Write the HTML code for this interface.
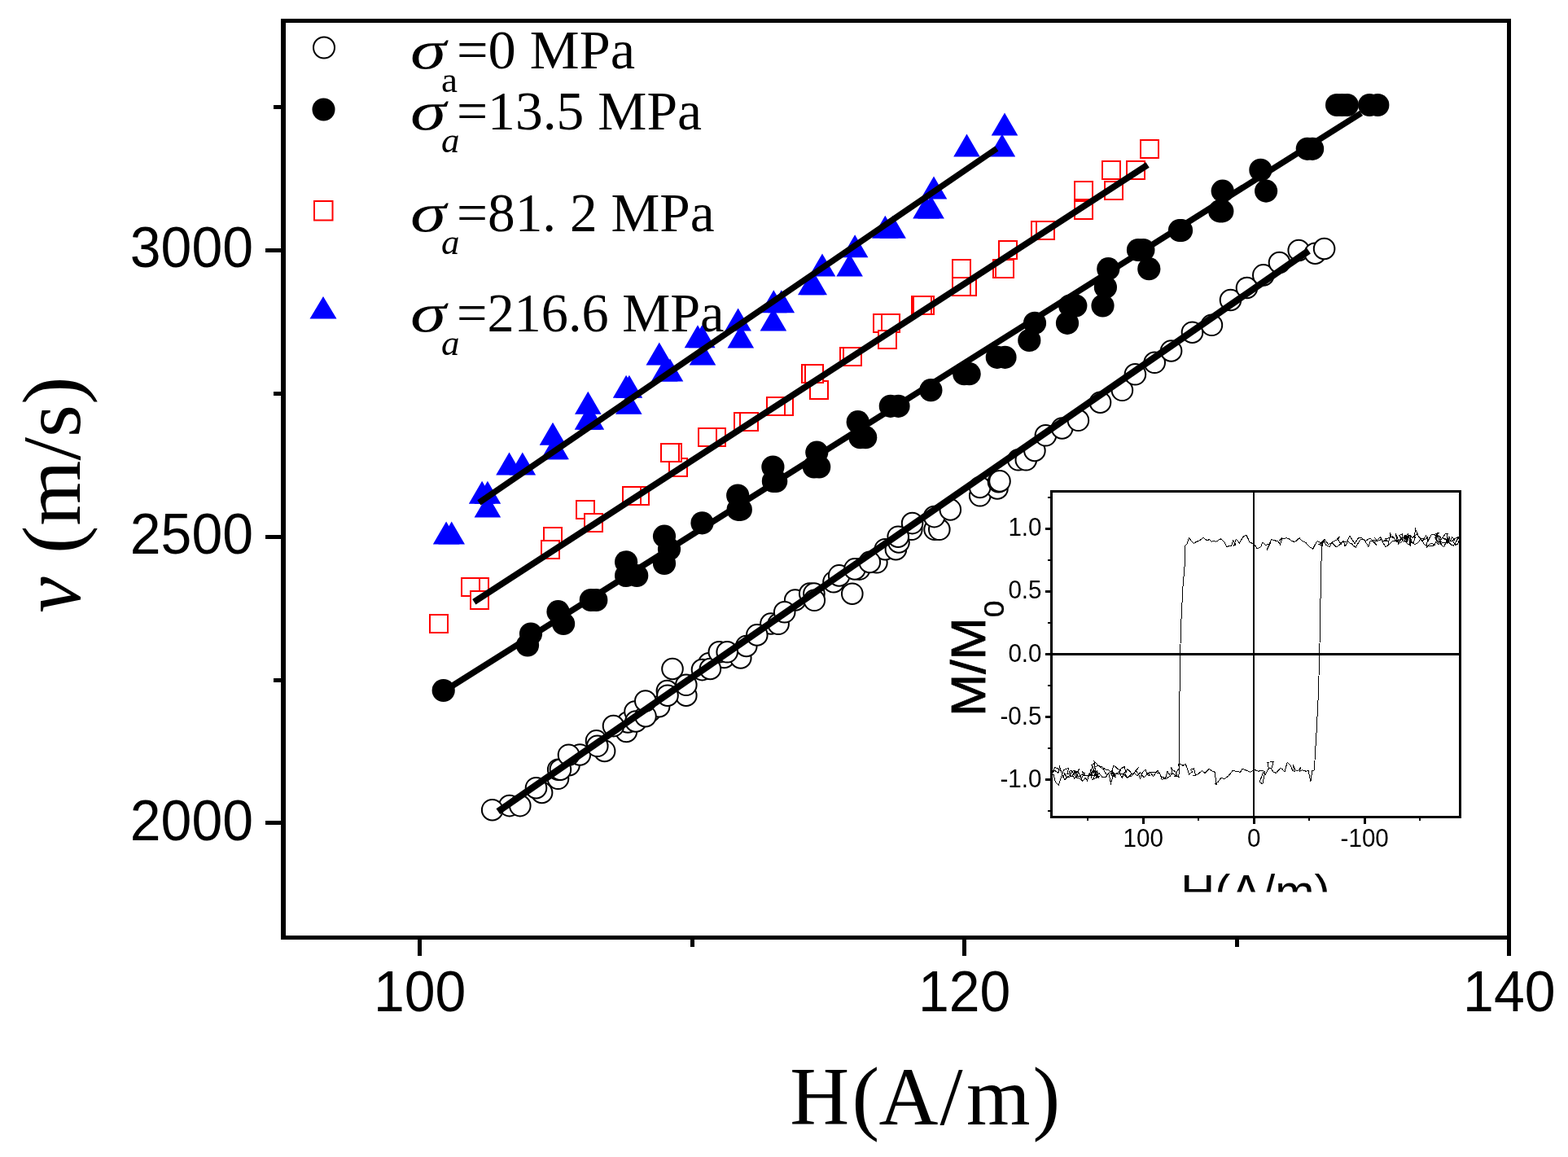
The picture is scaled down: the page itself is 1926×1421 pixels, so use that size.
<!DOCTYPE html>
<html lang="en"><head><meta charset="utf-8"><title>v versus H</title>
<style>
html,body{margin:0;padding:0;background:#fff;}
body{width:1926px;height:1421px;overflow:hidden;}
svg{display:block;}
.sans{font-family:"Liberation Sans",Arial,Helvetica,sans-serif;}
.serif{font-family:"Liberation Serif","Times New Roman",Times,serif;}
</style></head><body>
<svg width="1926" height="1421" viewBox="0 0 1926 1421" role="img" aria-label="v (m/s) versus H (A/m)">
<rect x="0" y="0" width="1926" height="1421" fill="#fff"/>
<g fill="#000" shape-rendering="crispEdges">
<rect x="345" y="23" width="6" height="1131"/>
<rect x="345" y="23" width="1511" height="5"/>
<rect x="1851" y="23" width="5" height="1131"/>
<rect x="345" y="1149" width="1511" height="5"/>
<rect x="326" y="305.0" width="22" height="5"/>
<rect x="326" y="656.8" width="22" height="5"/>
<rect x="326" y="1007.7" width="22" height="5"/>
<rect x="336" y="129.0" width="12" height="5"/>
<rect x="336" y="480.9" width="12" height="5"/>
<rect x="336" y="832.5" width="12" height="5"/>
<rect x="513.3" y="1151" width="5" height="23"/>
<rect x="1181.9" y="1151" width="5" height="23"/>
<rect x="1851.0" y="1151" width="5" height="23"/>
<rect x="847.5" y="1151" width="5" height="12"/>
<rect x="1516.5" y="1151" width="5" height="12"/>
</g>
<g class="sans" font-size="70" fill="#000">
<text x="311" y="328.3" text-anchor="end" textLength="151.2" lengthAdjust="spacingAndGlyphs">3000</text>
<text x="311" y="680.3" text-anchor="end" textLength="151.2" lengthAdjust="spacingAndGlyphs">2500</text>
<text x="311" y="1031.8" text-anchor="end" textLength="151.2" lengthAdjust="spacingAndGlyphs">2000</text>
<text x="515.6" y="1242" text-anchor="middle" textLength="113.4" lengthAdjust="spacingAndGlyphs">100</text>
<text x="1184.6" y="1242" text-anchor="middle" textLength="113.4" lengthAdjust="spacingAndGlyphs">120</text>
<text x="1853.8" y="1242" text-anchor="middle" textLength="113.4" lengthAdjust="spacingAndGlyphs">140</text>
</g>
<text class="serif" x="970.2 1046.5 1079.4 1154.6 1186.9 1268.4" y="1380.5" font-size="101" fill="#000">H(A/m)</text>
<text class="serif" transform="translate(97.5,752.5) rotate(-90)" fill="#000"><tspan x="0" y="0" font-size="104" font-style="italic" textLength="43.9" lengthAdjust="spacingAndGlyphs">v</tspan><tspan font-size="60"> </tspan><tspan x="72.5" y="0" font-size="102" textLength="217.5" lengthAdjust="spacingAndGlyphs">(m/s)</tspan></text>
<circle cx="398" cy="58.5" r="13" fill="none" stroke="#000" stroke-width="2"/>
<circle cx="397.5" cy="134.5" r="14" fill="#000"/>
<rect x="386" y="247" width="22.5" height="23.5" fill="none" stroke="#f00" stroke-width="2"/>
<polygon points="397,364 413.5,391.5 380.5,391.5" fill="#00f"/>
<text class="serif" fill="#000"><tspan x="504" y="84.0" font-size="68" font-style="italic" textLength="44" lengthAdjust="spacingAndGlyphs">σ</tspan><tspan x="542" y="112.5" font-size="45">a</tspan><tspan x="561" y="84.0" font-size="68" textLength="219.0" lengthAdjust="spacingAndGlyphs">=0 MPa</tspan></text>
<text class="serif" fill="#000"><tspan x="504" y="158.8" font-size="68" font-style="italic" textLength="44" lengthAdjust="spacingAndGlyphs">σ</tspan><tspan x="542" y="187.3" font-size="45" font-style="italic">a</tspan><tspan x="561" y="158.8" font-size="68" textLength="301.0" lengthAdjust="spacingAndGlyphs">=13.5 MPa</tspan></text>
<text class="serif" fill="#000"><tspan x="504" y="283.9" font-size="68" font-style="italic" textLength="44" lengthAdjust="spacingAndGlyphs">σ</tspan><tspan x="542" y="312.4" font-size="45" font-style="italic">a</tspan><tspan x="561" y="283.9" font-size="68" textLength="316.7" lengthAdjust="spacingAndGlyphs">=81. 2 MPa</tspan></text>
<text class="serif" fill="#000"><tspan x="504" y="407.3" font-size="68" font-style="italic" textLength="44" lengthAdjust="spacingAndGlyphs">σ</tspan><tspan x="542" y="435.8" font-size="45" font-style="italic">a</tspan><tspan x="561" y="407.3" font-size="68" textLength="328.5" lengthAdjust="spacingAndGlyphs">=216.6 MPa</tspan></text>
<g fill="#00f">
<polygon points="548.1,640.6 564.4,668.6 531.8,668.6"/>
<polygon points="554.7,640.6 571.0,668.6 538.4,668.6"/>
<polygon points="592.1,590.7 608.4,618.7 575.8,618.7"/>
<polygon points="598.9,590.7 615.2,618.7 582.6,618.7"/>
<polygon points="598.9,607.5 615.2,635.5 582.6,635.5"/>
<polygon points="625.5,555.4 641.8,583.4 609.2,583.4"/>
<polygon points="641.8,555.4 658.1,583.4 625.5,583.4"/>
<polygon points="679.0,518.7 695.3,546.7 662.7,546.7"/>
<polygon points="680.6,536.2 696.9,564.2 664.3,564.2"/>
<polygon points="682.6,536.2 698.9,564.2 666.3,564.2"/>
<polygon points="722.3,480.7 738.6,508.7 706.0,508.7"/>
<polygon points="722.0,499.7 738.3,527.7 705.7,527.7"/>
<polygon points="725.9,499.7 742.2,527.7 709.6,527.7"/>
<polygon points="769.1,460.7 785.4,488.7 752.8,488.7"/>
<polygon points="772.9,460.7 789.2,488.7 756.6,488.7"/>
<polygon points="772.3,480.7 788.6,508.7 756.0,508.7"/>
<polygon points="809.8,420.5 826.1,448.5 793.5,448.5"/>
<polygon points="816.2,440.6 832.5,468.6 799.9,468.6"/>
<polygon points="823.0,440.6 839.3,468.6 806.7,468.6"/>
<polygon points="857.0,399.3 873.3,427.3 840.7,427.3"/>
<polygon points="862.3,399.3 878.6,427.3 846.0,427.3"/>
<polygon points="863.0,420.5 879.3,448.5 846.7,448.5"/>
<polygon points="906.6,378.4 922.9,406.4 890.3,406.4"/>
<polygon points="909.8,399.4 926.1,427.4 893.5,427.4"/>
<polygon points="949.9,378.4 966.2,406.4 933.6,406.4"/>
<polygon points="950.3,356.3 966.6,384.3 934.0,384.3"/>
<polygon points="959.8,356.3 976.1,384.3 943.5,384.3"/>
<polygon points="996.3,334.3 1012.6,362.3 980.0,362.3"/>
<polygon points="999.7,334.3 1016.0,362.3 983.4,362.3"/>
<polygon points="1010.0,311.5 1026.3,339.5 993.7,339.5"/>
<polygon points="1043.6,311.5 1059.9,339.5 1027.3,339.5"/>
<polygon points="1050.1,288.3 1066.4,316.3 1033.8,316.3"/>
<polygon points="1087.3,264.7 1103.6,292.7 1071.0,292.7"/>
<polygon points="1096.6,264.7 1112.9,292.7 1080.3,292.7"/>
<polygon points="1137.5,240.4 1153.8,268.4 1121.2,268.4"/>
<polygon points="1143.6,240.4 1159.9,268.4 1127.3,268.4"/>
<polygon points="1147.0,216.5 1163.3,244.5 1130.7,244.5"/>
<polygon points="1187.5,164.4 1203.8,192.4 1171.2,192.4"/>
<polygon points="1230.9,164.4 1247.2,192.4 1214.6,192.4"/>
<polygon points="1234.0,138.4 1250.3,166.4 1217.7,166.4"/>
</g>
<g fill="#fff" stroke="#f00" stroke-width="2" shape-rendering="crispEdges">
<rect x="527.6" y="755.0" width="22" height="22"/>
<rect x="577.7" y="710.3" width="22" height="22"/>
<rect x="567.3" y="710.3" width="22" height="22"/>
<rect x="577.9" y="726.0" width="22" height="22"/>
<rect x="668.1" y="648.0" width="22" height="22"/>
<rect x="664.7" y="663.9" width="22" height="22"/>
<rect x="708.0" y="615.0" width="22" height="22"/>
<rect x="718.1" y="631.4" width="22" height="22"/>
<rect x="775.0" y="598.0" width="22" height="22"/>
<rect x="765.0" y="598.0" width="22" height="22"/>
<rect x="822.1" y="562.8" width="22" height="22"/>
<rect x="815.0" y="544.6" width="22" height="22"/>
<rect x="812.0" y="544.6" width="22" height="22"/>
<rect x="869.1" y="526.2" width="22" height="22"/>
<rect x="858.2" y="526.2" width="22" height="22"/>
<rect x="902.4" y="507.2" width="22" height="22"/>
<rect x="908.9" y="507.2" width="22" height="22"/>
<rect x="952.0" y="487.8" width="22" height="22"/>
<rect x="942.0" y="487.8" width="22" height="22"/>
<rect x="995.4" y="468.2" width="22" height="22"/>
<rect x="985.3" y="448.1" width="22" height="22"/>
<rect x="989.1" y="448.1" width="22" height="22"/>
<rect x="1032.2" y="427.4" width="22" height="22"/>
<rect x="1036.0" y="427.4" width="22" height="22"/>
<rect x="1072.9" y="385.6" width="22" height="22"/>
<rect x="1083.0" y="385.6" width="22" height="22"/>
<rect x="1078.8" y="406.0" width="22" height="22"/>
<rect x="1119.8" y="364.4" width="22" height="22"/>
<rect x="1125.3" y="364.4" width="22" height="22"/>
<rect x="1122.3" y="364.4" width="22" height="22"/>
<rect x="1176.6" y="341.2" width="22" height="22"/>
<rect x="1169.5" y="341.2" width="22" height="22"/>
<rect x="1169.5" y="319.0" width="22" height="22"/>
<rect x="1220.3" y="319.0" width="22" height="22"/>
<rect x="1223.0" y="319.0" width="22" height="22"/>
<rect x="1226.6" y="296.0" width="22" height="22"/>
<rect x="1267.4" y="272.0" width="22" height="22"/>
<rect x="1273.1" y="272.0" width="22" height="22"/>
<rect x="1320.1" y="247.3" width="22" height="22"/>
<rect x="1320.1" y="223.4" width="22" height="22"/>
<rect x="1357.1" y="223.4" width="22" height="22"/>
<rect x="1353.5" y="197.7" width="22" height="22"/>
<rect x="1384.1" y="197.7" width="22" height="22"/>
<rect x="1400.6" y="172.0" width="22" height="22"/>
</g>
<g fill="#000">
<circle cx="544.7" cy="848.0" r="14.1"/>
<circle cx="648.0" cy="792.5" r="14.1"/>
<circle cx="652.0" cy="778.5" r="14.1"/>
<circle cx="692.1" cy="766.0" r="14.1"/>
<circle cx="685.5" cy="751.2" r="14.1"/>
<circle cx="725.8" cy="737.0" r="14.1"/>
<circle cx="732.3" cy="737.0" r="14.1"/>
<circle cx="769.1" cy="707.0" r="14.1"/>
<circle cx="782.2" cy="707.0" r="14.1"/>
<circle cx="769.1" cy="690.3" r="14.1"/>
<circle cx="816.0" cy="658.6" r="14.1"/>
<circle cx="822.0" cy="674.5" r="14.1"/>
<circle cx="816.0" cy="692.0" r="14.1"/>
<circle cx="862.5" cy="642.3" r="14.1"/>
<circle cx="906.2" cy="608.5" r="14.1"/>
<circle cx="906.6" cy="625.9" r="14.1"/>
<circle cx="909.8" cy="625.9" r="14.1"/>
<circle cx="949.4" cy="573.5" r="14.1"/>
<circle cx="949.9" cy="591.0" r="14.1"/>
<circle cx="953.2" cy="591.0" r="14.1"/>
<circle cx="1003.3" cy="555.6" r="14.1"/>
<circle cx="999.9" cy="573.5" r="14.1"/>
<circle cx="1006.2" cy="573.5" r="14.1"/>
<circle cx="1053.7" cy="518.2" r="14.1"/>
<circle cx="1056.5" cy="537.2" r="14.1"/>
<circle cx="1063.2" cy="537.2" r="14.1"/>
<circle cx="1093.8" cy="498.8" r="14.1"/>
<circle cx="1103.5" cy="498.8" r="14.1"/>
<circle cx="1143.4" cy="479.2" r="14.1"/>
<circle cx="1184.3" cy="459.2" r="14.1"/>
<circle cx="1190.6" cy="459.2" r="14.1"/>
<circle cx="1224.8" cy="438.8" r="14.1"/>
<circle cx="1234.5" cy="438.8" r="14.1"/>
<circle cx="1264.3" cy="418.0" r="14.1"/>
<circle cx="1271.0" cy="396.8" r="14.1"/>
<circle cx="1311.0" cy="396.8" r="14.1"/>
<circle cx="1314.2" cy="375.5" r="14.1"/>
<circle cx="1321.3" cy="375.5" r="14.1"/>
<circle cx="1354.5" cy="375.5" r="14.1"/>
<circle cx="1357.9" cy="352.7" r="14.1"/>
<circle cx="1361.3" cy="330.2" r="14.1"/>
<circle cx="1411.3" cy="330.2" r="14.1"/>
<circle cx="1398.0" cy="307.0" r="14.1"/>
<circle cx="1404.4" cy="307.0" r="14.1"/>
<circle cx="1449.0" cy="283.0" r="14.1"/>
<circle cx="1451.0" cy="283.0" r="14.1"/>
<circle cx="1498.2" cy="259.4" r="14.1"/>
<circle cx="1501.3" cy="259.4" r="14.1"/>
<circle cx="1501.7" cy="234.6" r="14.1"/>
<circle cx="1555.1" cy="234.6" r="14.1"/>
<circle cx="1548.4" cy="208.8" r="14.1"/>
<circle cx="1605.8" cy="182.8" r="14.1"/>
<circle cx="1612.1" cy="182.8" r="14.1"/>
<circle cx="1642.1" cy="129.0" r="14.1"/>
<circle cx="1648.4" cy="129.0" r="14.1"/>
<circle cx="1654.8" cy="129.0" r="14.1"/>
<circle cx="1682.2" cy="129.0" r="14.1"/>
<circle cx="1692.3" cy="129.0" r="14.1"/>
</g>
<g fill="#fff" stroke="#000" stroke-width="2">
<circle cx="625.8" cy="989.6" r="12.8"/>
<circle cx="665.6" cy="973.5" r="12.8"/>
<circle cx="685.5" cy="956.3" r="12.8"/>
<circle cx="699.0" cy="939.7" r="12.8"/>
<circle cx="742.6" cy="922.4" r="12.8"/>
<circle cx="769.4" cy="898.5" r="12.8"/>
<circle cx="771.2" cy="887.0" r="12.8"/>
<circle cx="780.0" cy="874.0" r="12.8"/>
<circle cx="798.7" cy="873.5" r="12.8"/>
<circle cx="809.6" cy="867.7" r="12.8"/>
<circle cx="842.8" cy="854.2" r="12.8"/>
<circle cx="870.8" cy="814.8" r="12.8"/>
<circle cx="889.5" cy="807.5" r="12.8"/>
<circle cx="909.8" cy="808.0" r="12.8"/>
<circle cx="916.8" cy="793.5" r="12.8"/>
<circle cx="946.9" cy="766.0" r="12.8"/>
<circle cx="976.7" cy="737.0" r="12.8"/>
<circle cx="994.7" cy="729.0" r="12.8"/>
<circle cx="1024.0" cy="714.7" r="12.8"/>
<circle cx="1055.6" cy="699.1" r="12.8"/>
<circle cx="1076.9" cy="690.8" r="12.8"/>
<circle cx="1087.2" cy="674.7" r="12.8"/>
<circle cx="1100.4" cy="674.7" r="12.8"/>
<circle cx="1119.8" cy="650.3" r="12.8"/>
<circle cx="1148.1" cy="650.3" r="12.8"/>
<circle cx="1203.7" cy="608.8" r="12.8"/>
<circle cx="1225.0" cy="600.0" r="12.8"/>
<circle cx="1250.8" cy="564.8" r="12.8"/>
<circle cx="1153.8" cy="650.3" r="12.8"/>
<circle cx="1260.3" cy="564.8" r="12.8"/>
<circle cx="638.8" cy="989.6" r="12.8"/>
<circle cx="685.7" cy="945.2" r="12.8"/>
<circle cx="688.4" cy="945.2" r="12.8"/>
<circle cx="712.3" cy="927.0" r="12.8"/>
<circle cx="732.5" cy="909.9" r="12.8"/>
<circle cx="733.8" cy="916.3" r="12.8"/>
<circle cx="781.0" cy="886.0" r="12.8"/>
<circle cx="793.0" cy="879.7" r="12.8"/>
<circle cx="819.4" cy="848.5" r="12.8"/>
<circle cx="820.0" cy="854.2" r="12.8"/>
<circle cx="842.8" cy="841.3" r="12.8"/>
<circle cx="862.5" cy="822.6" r="12.8"/>
<circle cx="872.4" cy="821.5" r="12.8"/>
<circle cx="883.3" cy="800.8" r="12.8"/>
<circle cx="893.2" cy="800.8" r="12.8"/>
<circle cx="929.8" cy="779.9" r="12.8"/>
<circle cx="956.1" cy="766.3" r="12.8"/>
<circle cx="999.9" cy="729.0" r="12.8"/>
<circle cx="1030.7" cy="706.9" r="12.8"/>
<circle cx="1049.9" cy="698.9" r="12.8"/>
<circle cx="1068.3" cy="690.4" r="12.8"/>
<circle cx="1104.0" cy="665.9" r="12.8"/>
<circle cx="1120.6" cy="642.6" r="12.8"/>
<circle cx="1147.6" cy="634.6" r="12.8"/>
<circle cx="1203.7" cy="598.5" r="12.8"/>
<circle cx="1226.5" cy="591.7" r="12.8"/>
<circle cx="1270.9" cy="553.5" r="12.8"/>
<circle cx="1284.4" cy="534.8" r="12.8"/>
<circle cx="1304.6" cy="526.0" r="12.8"/>
<circle cx="1351.5" cy="494.2" r="12.8"/>
<circle cx="1378.4" cy="479.3" r="12.8"/>
<circle cx="1394.4" cy="459.8" r="12.8"/>
<circle cx="1418.2" cy="445.3" r="12.8"/>
<circle cx="1438.6" cy="431.0" r="12.8"/>
<circle cx="1464.5" cy="408.2" r="12.8"/>
<circle cx="1488.4" cy="399.3" r="12.8"/>
<circle cx="1511.5" cy="368.5" r="12.8"/>
<circle cx="1531.5" cy="353.5" r="12.8"/>
<circle cx="1551.8" cy="337.9" r="12.8"/>
<circle cx="1571.5" cy="322.5" r="12.8"/>
<circle cx="1595.2" cy="307.5" r="12.8"/>
<circle cx="1615.4" cy="311.2" r="12.8"/>
<circle cx="1626.6" cy="305.5" r="12.8"/>
<circle cx="1324.4" cy="516.3" r="12.8"/>
<circle cx="604.7" cy="994.7" r="12.8"/>
<circle cx="658.5" cy="967.7" r="12.8"/>
<circle cx="698.5" cy="927.2" r="12.8"/>
<circle cx="753.5" cy="891.6" r="12.8"/>
<circle cx="792.8" cy="861.0" r="12.8"/>
<circle cx="826.0" cy="821.5" r="12.8"/>
<circle cx="963.7" cy="751.8" r="12.8"/>
<circle cx="1000.3" cy="737.3" r="12.8"/>
<circle cx="1046.8" cy="729.2" r="12.8"/>
<circle cx="1103.2" cy="659.2" r="12.8"/>
<circle cx="1167.3" cy="625.9" r="12.8"/>
<circle cx="1228.0" cy="590.9" r="12.8"/>
</g>
<g stroke="#000" stroke-linecap="butt">
<line x1="588.4" y1="617.3" x2="1224.3" y2="182.5" stroke-width="7.5"/>
<line x1="582.3" y1="739.3" x2="1409.6" y2="202.5" stroke-width="7.8"/>
<line x1="545.0" y1="849.0" x2="1672.0" y2="138.8" stroke-width="7.5"/>
<line x1="611.8" y1="996.6" x2="1607.5" y2="308.0" stroke-width="8.3"/>
</g>
<g fill="none" stroke="#000" shape-rendering="crispEdges">
<rect x="1291.8" y="603.7" width="501.6" height="399.6" stroke-width="3"/>
<line x1="1291.8" y1="803.5" x2="1793.4" y2="803.5" stroke-width="3"/>
<line x1="1540.3" y1="603.7" x2="1540.3" y2="1003.3" stroke-width="2"/>
<line x1="1284" y1="649.3" x2="1291.8" y2="649.3" stroke-width="3"/>
<line x1="1284" y1="726.4" x2="1291.8" y2="726.4" stroke-width="3"/>
<line x1="1284" y1="803.5" x2="1291.8" y2="803.5" stroke-width="3"/>
<line x1="1284" y1="880.6" x2="1291.8" y2="880.6" stroke-width="3"/>
<line x1="1284" y1="957.7" x2="1291.8" y2="957.7" stroke-width="3"/>
<line x1="1287" y1="610.8" x2="1291.8" y2="610.8" stroke-width="2"/>
<line x1="1287" y1="687.9" x2="1291.8" y2="687.9" stroke-width="2"/>
<line x1="1287" y1="765.0" x2="1291.8" y2="765.0" stroke-width="2"/>
<line x1="1287" y1="842.0" x2="1291.8" y2="842.0" stroke-width="2"/>
<line x1="1287" y1="919.1" x2="1291.8" y2="919.1" stroke-width="2"/>
<line x1="1287" y1="996.2" x2="1291.8" y2="996.2" stroke-width="2"/>
<line x1="1404.2" y1="1003.3" x2="1404.2" y2="1012" stroke-width="3"/>
<line x1="1540.2" y1="1003.3" x2="1540.2" y2="1012" stroke-width="3"/>
<line x1="1676.2" y1="1003.3" x2="1676.2" y2="1012" stroke-width="3"/>
<line x1="1336.2" y1="1003.3" x2="1336.2" y2="1008" stroke-width="2"/>
<line x1="1472.2" y1="1003.3" x2="1472.2" y2="1008" stroke-width="2"/>
<line x1="1608.2" y1="1003.3" x2="1608.2" y2="1008" stroke-width="2"/>
<line x1="1744.2" y1="1003.3" x2="1744.2" y2="1008" stroke-width="2"/>
</g>
<g class="sans" font-size="32" fill="#000">
<text x="1279.5" y="658.3" text-anchor="end" textLength="41.1" lengthAdjust="spacingAndGlyphs">1.0</text>
<text x="1279.5" y="735.4" text-anchor="end" textLength="41.1" lengthAdjust="spacingAndGlyphs">0.5</text>
<text x="1279.5" y="812.5" text-anchor="end" textLength="41.1" lengthAdjust="spacingAndGlyphs">0.0</text>
<text x="1279.5" y="889.6" text-anchor="end" textLength="51.0" lengthAdjust="spacingAndGlyphs">-0.5</text>
<text x="1279.5" y="966.7" text-anchor="end" textLength="51.0" lengthAdjust="spacingAndGlyphs">-1.0</text>
<text x="1404.2" y="1040.2" text-anchor="middle" textLength="49.4" lengthAdjust="spacingAndGlyphs">100</text>
<text x="1540.2" y="1040.2" text-anchor="middle" textLength="16.5" lengthAdjust="spacingAndGlyphs">0</text>
<text x="1676.2" y="1040.2" text-anchor="middle" textLength="59.2" lengthAdjust="spacingAndGlyphs">-100</text>
</g>
<text class="sans" transform="translate(1210.3,880) rotate(-90)" font-size="59" fill="#000" stroke="#000" stroke-width="0.8" textLength="142.5" lengthAdjust="spacingAndGlyphs">M/M<tspan font-size="35" dy="23" stroke-width="0.3">0</tspan></text>
<clipPath id="c1"><rect x="1400" y="1050" width="300" height="45.5"/></clipPath>
<text class="sans" x="1542" y="1114.7" font-size="58" fill="#000" text-anchor="middle" clip-path="url(#c1)">H(A/m)</text>
<clipPath id="c2"><rect x="1291.8" y="603.7" width="501.6" height="399.6"/></clipPath>
<g clip-path="url(#c2)">
<polyline fill="none" stroke="#000" stroke-width="1" stroke-linejoin="miter" shape-rendering="crispEdges" points="1793.0,659.0 1787.9,661.0 1783.3,664.4 1786.8,663.1 1783.8,659.6 1781.7,663.5 1776.8,666.3 1772.5,666.8 1766.7,664.2 1770.7,665.2 1767.4,668.6 1763.4,666.2 1760.5,670.1 1754.8,670.7 1749.8,669.0 1744.2,660.4 1740.1,655.9 1734.7,660.8 1731.9,657.0 1726.2,659.5 1720.8,666.3 1716.4,664.0 1710.5,664.3 1705.4,669.3 1701.9,671.7 1696.6,662.6 1691.4,664.7 1686.9,665.7 1690.9,669.2 1685.9,664.4 1683.1,660.9 1677.2,664.5 1672.4,660.4 1669.0,660.0 1664.0,667.6 1658.1,658.4 1654.0,665.4 1649.5,664.8 1647.3,668.3 1643.5,662.7 1645.1,659.3 1641.8,663.0 1637.5,665.2 1631.9,668.9 1626.8,662.2 1624.3,668.2 1620.3,665.7 1618.1,664.6 1615.4,668.6 1612.8,674.1 1609.3,672.0 1603.4,666.1 1599.2,664.2 1596.1,660.8 1590.3,665.8 1586.0,664.0 1582.4,661.2 1579.8,660.9 1574.0,661.4 1571.5,664.0 1574.8,660.9 1572.5,669.0 1570.0,664.8 1567.5,664.3 1561.8,662.7 1559.3,667.9 1556.0,675.9 1560.1,668.0 1554.2,669.4 1551.1,665.9 1548.6,671.6 1544.0,674.0 1540.7,668.4 1535.1,665.9 1530.8,657.0 1527.6,658.5 1522.4,666.8 1518.4,662.3 1515.6,670.1 1517.9,668.7 1514.7,664.0 1512.5,670.1 1506.8,671.4 1504.0,665.6 1499.3,661.7 1494.1,665.1 1490.2,664.6 1488.0,665.2 1485.7,662.4 1482.6,663.9 1478.1,660.4 1474.0,663.4 1469.1,665.6 1466.1,667.4 1460.4,660.8 1458.0,668.1 1456.0,670.0 1455.5,690.0 1453.0,720.0 1450.5,770.0 1449.3,820.0 1448.5,900.0 1449.0,948.0 1447.0,953.5 1448.5,954.7 1444.2,952.7 1440.2,949.7 1435.7,954.4 1432.1,956.3 1427.0,957.1 1424.4,949.0 1420.7,949.0 1415.2,948.0 1410.0,949.7 1405.0,954.9 1400.4,949.1 1396.7,952.8 1393.2,949.4 1389.3,951.4 1384.4,955.1 1379.7,950.1 1374.9,950.1 1371.5,950.0 1367.1,953.5 1365.1,951.4 1362.4,946.1 1357.4,944.8 1354.0,942.0 1351.5,941.3 1349.4,940.2 1344.6,941.7 1346.9,952.0 1344.9,952.7 1342.5,946.1 1337.9,953.4 1332.9,951.9 1328.6,946.8 1332.1,949.8 1328.3,956.0 1324.3,947.9 1326.0,943.9 1323.7,947.7 1318.4,946.4 1315.6,950.4 1311.1,950.1 1312.5,943.4 1310.2,944.3 1306.4,945.7 1303.7,954.3 1300.3,964.4 1296.3,960.2 1294.3,951.5 1292.5,950.8"/>
<polyline fill="none" stroke="#000" stroke-width="1" stroke-linejoin="miter" shape-rendering="crispEdges" points="1292.5,949.9 1295.7,942.6 1299.4,944.0 1303.2,947.1 1306.0,955.0 1307.9,949.7 1310.0,955.0 1314.1,952.4 1317.5,953.3 1319.9,947.3 1322.8,953.1 1326.2,953.5 1329.6,950.9 1331.6,952.8 1336.0,952.9 1338.3,954.0 1336.3,952.8 1340.0,947.2 1342.0,941.4 1346.0,951.6 1344.1,935.4 1349.5,940.7 1354.9,944.4 1359.9,952.4 1364.9,947.1 1369.7,950.7 1375.0,948.0 1378.1,955.4 1381.4,948.8 1384.5,954.9 1387.5,953.9 1389.5,953.9 1393.5,948.5 1398.5,942.4 1395.4,946.6 1398.3,950.7 1400.6,956.1 1403.3,948.7 1406.8,945.0 1409.4,951.8 1412.4,952.7 1410.2,949.1 1413.0,948.7 1416.4,953.5 1421.9,946.2 1426.5,953.6 1431.6,956.0 1434.0,947.4 1437.7,953.2 1439.8,946.9 1437.9,942.0 1440.7,945.6 1443.9,948.0 1446.4,953.8 1443.0,953.4 1445.1,948.7 1448.6,943.0 1447.1,938.2 1450.8,938.7 1454.1,941.2 1451.7,939.4 1456.4,938.9 1460.7,950.8 1464.9,947.8 1462.5,945.2 1466.5,943.8 1468.5,952.1 1465.0,953.0 1469.5,951.4 1471.8,950.6 1476.3,946.6 1480.1,949.6 1485.0,944.5 1489.9,947.5 1492.0,948.2 1494.3,963.6 1492.5,962.1 1496.0,960.6 1500.1,955.2 1503.4,956.9 1508.7,953.3 1514.0,946.6 1519.1,947.2 1523.5,948.6 1525.9,944.0 1531.2,946.3 1535.5,948.1 1540.9,945.4 1545.7,947.2 1549.4,946.3 1553.8,947.7 1550.8,963.0 1547.3,960.2 1551.5,948.5 1554.4,951.2 1558.5,943.6 1556.7,936.1 1559.6,936.0 1564.2,935.8 1561.9,943.2 1559.3,943.0 1561.5,944.3 1564.3,948.1 1567.5,949.4 1572.8,943.4 1576.0,945.4 1573.4,943.7 1577.9,947.9 1581.2,936.4 1585.4,940.5 1588.0,946.9 1590.3,947.3 1588.0,939.1 1591.7,946.0 1594.8,946.6 1598.0,941.8 1596.4,947.4 1599.0,945.8 1603.9,947.1 1607.2,946.9 1609.8,960.0 1612.0,946.3 1614.3,946.0 1615.5,925.0 1617.0,900.0 1619.5,850.0 1621.0,790.0 1622.3,720.0 1623.5,668.0 1625.0,671.1 1623.6,669.6 1620.1,668.6 1624.4,665.2 1626.2,663.4 1628.5,669.2 1633.0,671.7 1636.0,666.4 1640.8,671.3 1642.6,671.2 1646.8,667.9 1650.1,664.5 1652.1,670.9 1655.9,664.6 1657.9,666.9 1660.2,667.5 1662.6,670.5 1665.3,672.2 1670.1,663.8 1672.1,662.5 1674.9,662.1 1678.8,667.9 1680.8,671.1 1683.3,664.6 1686.3,663.5 1691.3,663.8 1688.0,659.9 1691.6,663.8 1695.3,659.4 1698.0,664.0 1700.4,664.5 1703.6,664.0 1701.9,661.9 1706.2,660.8 1710.8,658.6 1715.7,665.7 1717.6,664.5 1721.2,660.9 1724.5,660.7 1726.9,665.9 1730.0,669.1 1733.8,665.6 1738.0,668.8 1742.0,666.2 1745.0,661.9 1748.7,661.8 1751.7,657.9 1754.0,664.4 1758.3,656.3 1762.9,656.0 1767.1,654.4 1764.0,659.5 1768.3,658.6 1764.9,656.9 1769.5,659.5 1766.5,665.8 1769.2,663.8 1771.5,660.1 1774.9,662.2 1772.1,660.8 1775.4,655.2 1778.1,655.7 1776.9,664.1 1781.6,664.4 1785.0,665.0 1787.5,669.4 1790.7,668.1 1793.0,661.3"/>
<polyline fill="none" stroke="#000" stroke-width="1" stroke-linejoin="miter" shape-rendering="crispEdges" points="1700.0,663.4 1703.8,663.7 1705.7,665.3 1707.3,659.7 1705.1,667.6 1708.2,656.4 1706.9,654.5 1709.4,659.4 1712.1,661.0 1716.1,666.4 1714.5,655.3 1718.1,664.9 1717.2,669.2 1721.1,661.2 1718.7,657.5 1722.6,655.9 1721.5,663.3 1724.3,659.6 1726.1,656.9 1724.7,665.9 1726.9,661.1 1730.5,657.4 1729.1,663.7 1727.6,658.6 1729.6,659.4 1733.5,662.2 1732.2,667.7 1730.8,668.4 1732.7,670.4 1731.0,661.4 1733.0,659.4 1730.9,657.5 1729.8,661.1 1727.7,667.3 1726.7,658.2 1729.5,655.9 1732.0,662.4 1735.9,667.8 1738.2,659.9 1737.1,659.3 1738.7,650.1 1742.5,658.8 1746.2,664.3 1749.0,662.2 1747.0,664.3 1750.6,662.2 1753.6,659.9 1752.4,673.2 1753.8,670.2 1755.7,668.4 1759.4,667.5 1761.9,670.0 1764.3,664.1 1767.0,667.5 1764.3,661.1 1762.8,660.9 1765.5,665.8 1763.7,658.6 1765.2,661.4 1762.8,657.7 1764.3,657.0 1765.8,659.1 1768.9,666.3 1770.8,668.5 1769.8,668.9 1773.6,671.6 1777.2,663.6 1780.9,662.3 1778.3,662.9 1781.1,660.7 1778.3,665.9 1775.6,661.1 1777.3,667.4 1779.3,659.0 1780.8,659.7 1778.2,665.4 1779.7,666.1 1782.3,668.9 1785.5,670.1 1788.6,665.3 1792.2,659.6 1789.6,662.9 1793.0,660.8"/>
<polyline fill="none" stroke="#000" stroke-width="1" stroke-linejoin="miter" shape-rendering="crispEdges" points="1292.5,948.0 1295.9,946.5 1299.9,949.3 1301.5,941.3 1305.1,952.5 1307.8,957.6 1311.4,954.4 1315.7,953.7 1313.6,947.2 1315.9,946.0 1320.1,952.0 1317.5,951.6 1319.6,956.3 1322.3,952.6 1320.4,947.3 1324.9,949.4 1322.2,951.8 1319.9,947.8 1324.1,950.9 1322.8,955.1 1325.5,955.5 1329.9,959.4 1333.2,955.4 1335.5,958.8 1338.5,949.8 1340.9,955.4 1339.5,945.6 1342.6,942.9 1346.6,951.7 1349.5,955.7 1347.3,946.3 1348.9,950.6 1346.6,949.9 1343.6,937.2 1340.9,939.8 1343.4,944.4 1341.0,952.2 1344.8,953.1 1342.1,957.4 1346.2,955.2 1348.5,954.6 1346.9,955.7 1350.9,953.4 1348.6,953.6 1346.5,954.0 1348.6,950.6 1350.4,950.0 1353.9,954.4 1356.9,955.0 1359.9,952.6 1357.9,954.4 1361.6,949.7 1364.6,961.8 1367.2,953.1 1370.7,954.9 1367.9,952.9 1370.3,952.3 1367.4,948.2 1364.8,945.9 1368.2,951.4 1365.1,950.6 1367.7,940.4 1370.1,941.6 1372.2,943.7 1376.5,946.7 1374.9,947.5 1377.0,943.7 1381.3,941.6 1383.0,948.7 1384.6,945.0 1387.5,946.5 1390.0,951.2"/>
</g>
</svg></body></html>
